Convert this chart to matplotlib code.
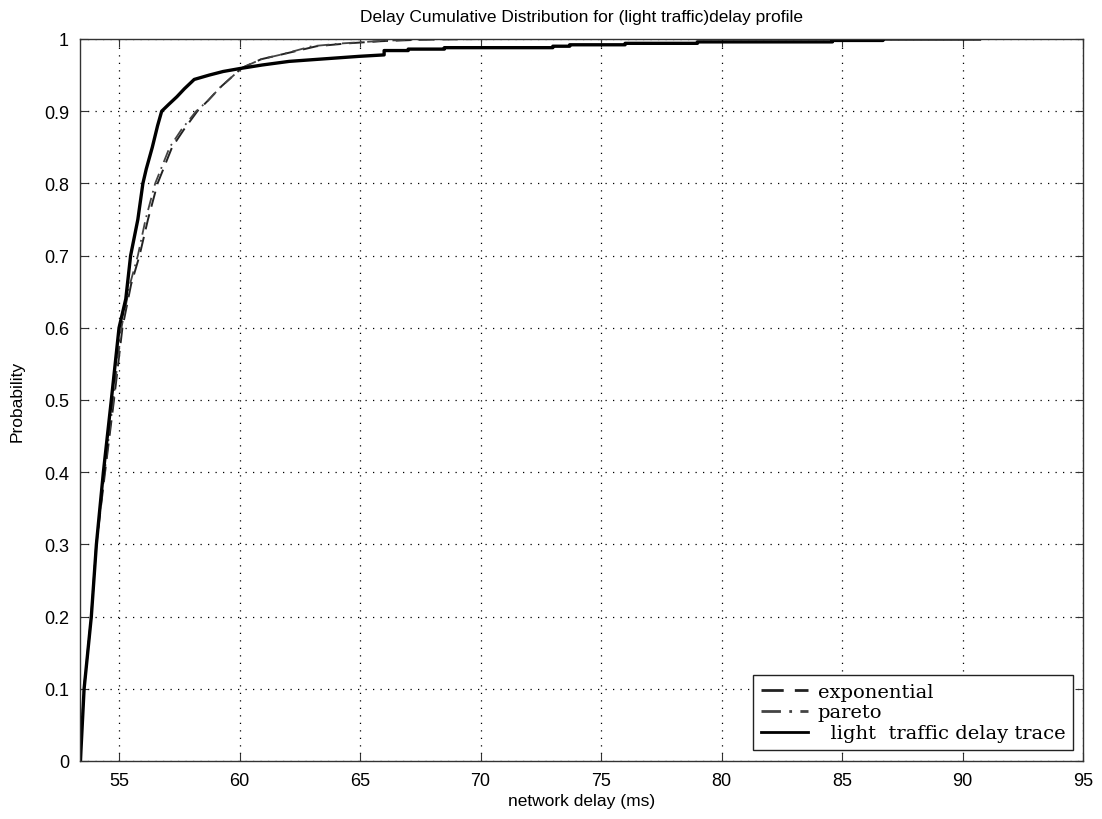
import matplotlib.pyplot as plt
import matplotlib.ticker as ticker

# values
exp_x = [53.38, 53.55, 53.85, 54.06, 54.42, 54.79, 55.14, 55.5, 55.85, 56.2, 56.6, 57.2, 57.7,
         58.25, 58.7, 59.2, 59.8, 60.1, 60.9, 61.8, 63.2, 64.5, 65.9, 67.5, 70.0]
exp_y = [0.0, 0.1, 0.2, 0.3, 0.4, 0.5, 0.6, 0.66, 0.7, 0.75, 0.8, 0.85, 0.875,
         0.9, 0.915, 0.933, 0.951, 0.96, 0.972, 0.979, 0.99, 0.994, 0.997, 0.999, 1.0]

par_x = [53.38, 53.54, 53.84, 54.05, 54.4, 54.76, 55.1, 55.45, 55.78, 56.1, 56.5, 57.1, 57.6,
         58.2, 58.7, 59.2, 59.8, 60.1, 60.9, 61.8, 63.0, 64.3, 65.7, 67.0, 68.5]
par_y = [0.0, 0.1, 0.2, 0.3, 0.4, 0.5, 0.6, 0.66, 0.7, 0.75, 0.8, 0.85, 0.875,
         0.9, 0.915, 0.933, 0.951, 0.96, 0.972, 0.979, 0.99, 0.994, 0.997, 0.999, 1.0]

trace_x = [53.4, 53.42, 53.55, 53.85, 54.06, 54.35, 54.68, 55.0, 55.28, 55.48, 55.78, 55.99,
           56.13, 56.38, 56.6, 56.77, 57.08, 57.4, 57.71, 58.12, 58.74, 59.32, 60.0, 60.94,
           62.06, 63.3, 64.97, 66.0, 66.0, 67.0, 67.0, 68.5, 68.5, 73.0, 73.0, 73.7, 73.7,
           76.0, 76.0, 79.0, 79.0, 84.6, 84.6, 86.7, 86.7, 90.7]
trace_y = [0.0, 0.015, 0.1, 0.2, 0.3, 0.4, 0.5, 0.6, 0.64, 0.7, 0.75, 0.8,
           0.82, 0.85, 0.88, 0.9, 0.91, 0.92, 0.931, 0.944, 0.95, 0.955, 0.959, 0.964,
           0.969, 0.972, 0.976, 0.978, 0.984, 0.984, 0.986, 0.986, 0.988, 0.988, 0.990, 0.990, 0.992,
           0.992, 0.994, 0.994, 0.996, 0.996, 0.998, 0.998, 1.0, 1.0]

plt.rcParams['font.family'] = ['Liberation Sans', 'DejaVu Sans']

fig = plt.figure(figsize=(11.02, 8.2), dpi=100)
ax = fig.add_axes([80 / 1102, 58 / 820, 1003 / 1102, 722 / 820])

ax.plot(exp_x, exp_y, color='#222222', linewidth=1.4, linestyle=(0, (8, 4)), label='exponential')
ax.plot(par_x, par_y, color='#444444', linewidth=1.3, linestyle=(0, (7, 3, 1, 3)), label='pareto')
ax.plot(trace_x, trace_y, color='black', linewidth=2.4, label='  light  traffic delay trace')

ax.set_xlim(53.38, 95)
ax.set_ylim(0, 1)
ax.xaxis.set_major_locator(ticker.MultipleLocator(5))
ax.yaxis.set_major_locator(ticker.MultipleLocator(0.1))
ax.yaxis.set_major_formatter(ticker.FuncFormatter(lambda v, p: '%g' % round(v, 1)))

ax.grid(True, color='black', linestyle=(0, (1, 5)), linewidth=0.9)
ax.tick_params(direction='in', top=True, right=True, length=6, labelsize=13, pad=8, color='#333333')
for s in ax.spines.values():
    s.set_color('#333333')
    s.set_linewidth(1.0)

ax.set_title('Delay Cumulative Distribution for (light traffic)delay profile', fontsize=12.5, pad=13)
ax.set_xlabel('network delay (ms)', fontsize=12.5, labelpad=3)
ax.set_ylabel('Probability', fontsize=12.5, labelpad=14)

leg = ax.legend(loc='lower right', bbox_to_anchor=(0.99, 0.015), fancybox=False, framealpha=1,
                edgecolor='#222222', handlelength=2.4, handletextpad=0.5, borderpad=0.4,
                labelspacing=0.15, borderaxespad=0.0,
                prop={'family': 'DejaVu Serif', 'size': 14})
leg.get_frame().set_linewidth(1.0)
for h in leg.get_lines():
    h.set_linewidth(2.0)

fig.savefig('out.png', dpi=100)
